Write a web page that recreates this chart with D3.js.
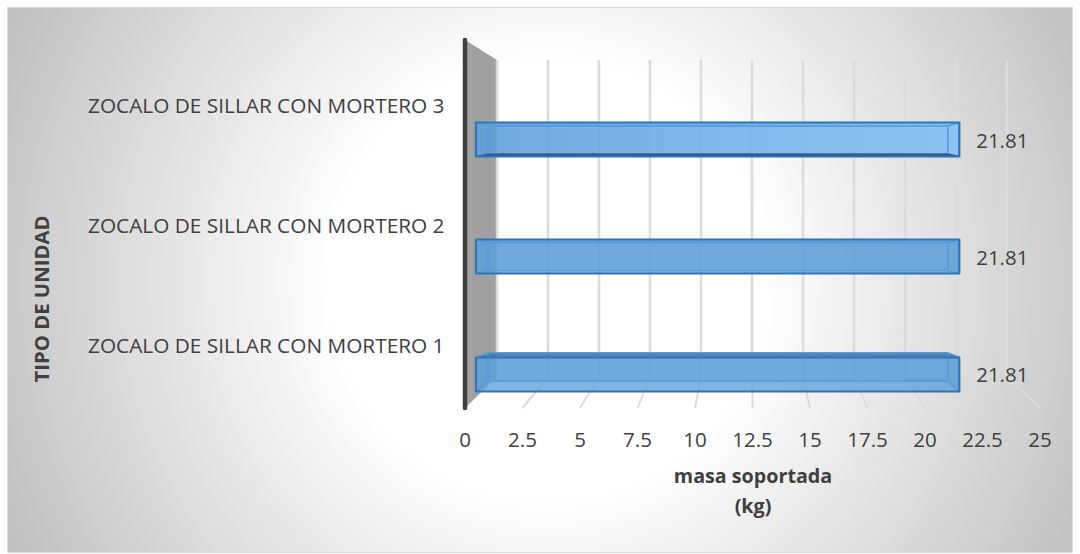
<!DOCTYPE html>
<html><head><meta charset="utf-8">
<script src="https://cdn.jsdelivr.net/npm/d3@7/dist/d3.min.js"></script>
<style>html,body{margin:0;padding:0;background:#fff;overflow:hidden}svg{display:block}text{font-family:"Open Sans",sans-serif;fill:#404040}</style>
</head><body><svg id="c" width="1080" height="554"></svg>
<script>
const categories=["ZOCALO DE SILLAR CON MORTERO 1","ZOCALO DE SILLAR CON MORTERO 2","ZOCALO DE SILLAR CON MORTERO 3"];
const values=[21.81,21.81,21.81];
const ticks=[0,2.5,5,7.5,10,12.5,15,17.5,20,22.5,25];
const xTitle=["masa soportada","(kg)"];
const yTitle="TIPO DE UNIDAD";
const svg=d3.select("#c");
const defs=svg.append("defs");
const bg=defs.append("radialGradient").attr("id","bg").attr("gradientUnits","userSpaceOnUse").attr("cx",548).attr("cy",280).attr("r",600);
bg.append("stop").attr("offset",0.36).attr("stop-color","#ffffff");
bg.append("stop").attr("offset",1).attr("stop-color","#c0c0c0");
const bar=defs.append("linearGradient").attr("id","barTop");
bar.append("stop").attr("offset",0).attr("stop-color","#5f9fd9");
bar.append("stop").attr("offset",1).attr("stop-color","#8ac4fc");
svg.append("rect").attr("x",7.5).attr("y",7.5).attr("width",1065).attr("height",545).attr("fill","url(#bg)").attr("stroke","#d9d9d9");
const xFront=d3.scaleLinear().domain([0,25]).range([465,1040]);
const xBack=d3.scaleLinear().domain([0,25]).range([497,1007]);
const xBarF=d3.scaleLinear().domain([0,25]).range([476,1030]);
const xBarB=d3.scaleLinear().domain([0,25]).range([488,1015]);
const wallTop=60,wallBot=377,frontTop=40,frontBot=408;
const g=svg.append("g");
g.append("path").attr("d",`M${xFront(0)},${frontTop}L${xBack(0)},${wallTop}L${xBack(0)},${wallBot}L${xFront(0)},${frontBot}Z`).attr("fill","#a0a0a0");
ticks.forEach(t=>{
 g.append("line").attr("x1",xBack(t)).attr("x2",xBack(t)).attr("y1",wallTop).attr("y2",wallBot).attr("stroke","#dcdcdc").attr("stroke-width",2.5);
 if(t>0)g.append("line").attr("x1",xBack(t)).attr("x2",xFront(t)).attr("y1",wallBot).attr("y2",frontBot).attr("stroke","#dcdcdc").attr("stroke-width",2);
});
g.append("line").attr("x1",465).attr("x2",465).attr("y1",frontTop).attr("y2",frontBot).attr("stroke","#404040").attr("stroke-width",4.5).attr("stroke-linecap","round");
const hF=34,hB=28;
const cyFront=[374.5,256.5,139.5],cyBack=[367,256.5,140];
const labelY=[353,233,113],valueY=[382,265,148];
categories.forEach((c,i)=>{
 const v=values[i];
 const cy=cyFront[i],cyB=cyBack[i];
 const L=xBarF(0),R=xBarF(v),LB=xBarB(0),RB=xBarB(v);
 const t=cy-hF/2,b=cy+hF/2,tb=cyB-hB/2,bb=cyB+hB/2;
 const gb=g.append("g");
 const face=(d,f,s)=>gb.append("path").attr("d",d).attr("fill",f).attr("stroke",s).attr("stroke-width",1.2).attr("stroke-linejoin","round");
 face(`M${LB},${tb}H${RB}V${bb}H${LB}Z`,"rgba(91,155,213,0.5)","#5b9bd5");
 face(`M${L},${t}L${LB},${tb}V${bb}L${L},${b}Z`,"rgba(91,155,213,0.5)","#5b9bd5");
 face(`M${R},${t}L${RB},${tb}V${bb}L${R},${b}Z`,"rgba(91,155,213,0.5)","#5b9bd5");
 face(`M${L},${t}L${LB},${tb}H${RB}L${R},${t}Z`,i==0?"rgba(60,105,150,0.75)":"rgba(80,140,200,0.6)","#2e75b6");
 gb.append("path").attr("d",`M${L},${t}H${R}V${b}H${L}Z`).attr("fill",i==2?"url(#barTop)":"#5f9fd9").attr("fill-opacity",.78);
 gb.append("path").attr("d",`M${L},${t}L${LB},${tb}H${RB}L${R},${t}M${LB},${tb}V${bb}M${RB},${tb}V${bb}M${L},${b}L${LB},${bb}H${RB}L${R},${b}`).attr("fill","none").attr("stroke","#5b9bd5").attr("stroke-width",1.5);
 if(i==2)face(`M${L},${b}L${LB},${bb}H${RB}L${R},${b}Z`,"#2a5a8a","#2a5a8a");
 gb.append("path").attr("d",`M${L},${t}H${R}V${b}H${L}Z`).attr("fill","none").attr("stroke","#2e75b6").attr("stroke-width",2.2).attr("stroke-linejoin","round");
 svg.append("text").attr("x",R+43).attr("y",valueY[i]).attr("text-anchor","middle").attr("font-size",20.5).text(v.toFixed(2));
 svg.append("text").attr("x",88).attr("y",labelY[i]).attr("font-size",20.8).text(c);
});
ticks.forEach(t=>svg.append("text").attr("x",xFront(t)).attr("y",447).attr("text-anchor","middle").attr("font-size",20.5).text(t));
xTitle.forEach((s,i)=>svg.append("text").attr("x",753).attr("y",483+i*30).attr("text-anchor","middle").attr("font-size",19.7).attr("font-weight",700).text(s));
svg.append("text").attr("transform","translate(49,299) rotate(-90)").attr("text-anchor","middle").attr("font-size",20.3).attr("font-weight",700).text(yTitle);
</script></body></html>
